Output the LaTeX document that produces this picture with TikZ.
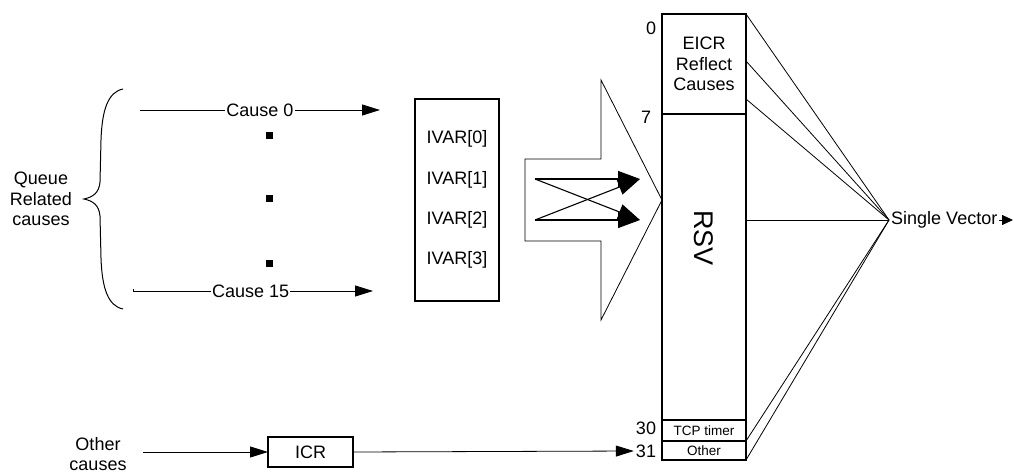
\documentclass[tikz,border=0pt]{standalone}
\usepackage{fontspec}
\setmainfont{Liberation Sans}
\usetikzlibrary{arrows.meta,calc}
\begin{document}
\begin{tikzpicture}[x=1pt,y=-1pt,
  box/.style={draw, line width=1.4pt, inner sep=0pt, outer sep=0pt},
  thinline/.style={line width=0.8pt},
  lbl/.style={font=\fontsize{18}{20.5}\selectfont, align=center, inner sep=1pt},
  small/.style={font=\fontsize{13.5}{15}\selectfont},
  arr/.style={thinline,-{Triangle[length=18pt,width=11pt]}},
  bigarr/.style={line width=1.1pt,-{Triangle[length=22pt,width=16pt]}},
  dot/.style={fill=black, minimum size=7pt, inner sep=0pt},
]
\useasboundingbox (0,0) rectangle (1014,473);

% RSV register column
\node[box, minimum width=84pt, minimum height=100pt, anchor=north west, lbl, inner sep=0pt] (eicr) at (662,14) {EICR\\Reflect\\Causes};
\node[box, minimum width=84pt, minimum height=306pt, anchor=north] (rsv) at (eicr.south) {};
\node[box, minimum width=84pt, minimum height=21pt, anchor=north, small] (tcp) at (rsv.south) {TCP timer};
\node[box, line width=1.1pt, minimum width=84pt, minimum height=19pt, anchor=north, small] (oth) at (tcp.south) {Other};
\node[rotate=-90, font=\fontsize{27}{28}\selectfont] (rsvl) at (704,238) {RSV};

% bit numbers
\node[lbl] (n0) at (651,28) {0};
\node[lbl] (n7) at (646,117) {7};
\node[lbl] (n30) at (646,428) {30};
\node[lbl, inner sep=2pt] (n31) at (646,451) {31};

% Single vector
\coordinate (sv) at (889,220);
\node[lbl, anchor=west, inner sep=2pt] (svt) at (sv) {Single Vector};
\coordinate (svend) at (1013,220);
\draw[thinline,-{Triangle[length=11pt,width=10pt]}] (svt.east) -- (svend);

\coordinate (r1) at (746,61);
\coordinate (r2) at (746,99);
\coordinate (r3) at (746,220);
\draw[thinline] (eicr.north east) -- (sv);
\draw[thinline] (r1) -- (sv);
\draw[thinline] (r2) -- (sv);
\draw[thinline] (r3) -- (sv);
\draw[thinline] (tcp.south east) -- (sv);
\draw[thinline] (oth.south east) -- (sv);

% big outline arrow
\draw[line width=0.8pt] (525,159) -- (601,159) -- (601,80) -- (662,200) -- (601,320) -- (601,241) -- (525,241) -- cycle;

% crossed arrows
\coordinate (a1) at (535,179);
\coordinate (a2) at (535,220);
\coordinate (b1) at (640,179);
\coordinate (b2) at (640,220);
\draw[bigarr] (a1) -- (b1);
\draw[bigarr] (a2) -- (b2);
\draw[bigarr] (a1) -- (b2);
\draw[bigarr] (a2) -- (b1);

% IVAR table
\node[box, line width=1.2pt, minimum width=84pt, minimum height=202pt, anchor=north west] (ivar) at (415,99) {};
\node[lbl] (iv0) at (457,139) {IVAR[0]};
\node[lbl] (iv1) at (457,180) {IVAR[1]};
\node[lbl] (iv2) at (457,220) {IVAR[2]};
\node[lbl] (iv3) at (457,260) {IVAR[3]};

% causes
\coordinate (c0s) at (140,110);
\coordinate (c0e) at (380,110);
\draw[arr] (c0s) -- node[lbl, fill=white, pos=0.5] (c0) {Cause 0} (c0e);
\coordinate (c15s) at (133,291);
\coordinate (c15e) at (373,291);
\draw[arr] (c15s) -- node[lbl, fill=white, pos=0.49] (c15) {Cause 15} (c15e);
\draw[thinline] (133,289) -- (133,292);

\node[dot] (d1) at (269,136) {};
\node[dot] (d2) at (269,199) {};
\node[dot] (d3) at (269,263) {};

% brace
\draw[line width=1pt] (123,89) .. controls (108,92) and (102,110) .. (101,140) -- (100,182)
  .. controls (99,193) and (93,197) .. (84,199)
  .. controls (93,201) and (99,205) .. (100,216) -- (101,258)
  .. controls (102,288) and (108,306) .. (123,309);
\node[lbl] (q) at (41,199) {Queue\\Related\\causes};

% other causes
\node[lbl, font=\fontsize{18}{20}\selectfont] (oc) at (98,454) {Other\\causes};
\coordinate (ocs) at (143,452);
\node[box, line width=1.2pt, minimum width=85pt, minimum height=30pt, anchor=west, lbl, inner sep=0pt] (icr) at (268,452) {ICR};
\draw[arr] (ocs) -- (icr.west);
\draw[arr] (icr.east) -- (n31.west);
\end{tikzpicture}
\end{document}
